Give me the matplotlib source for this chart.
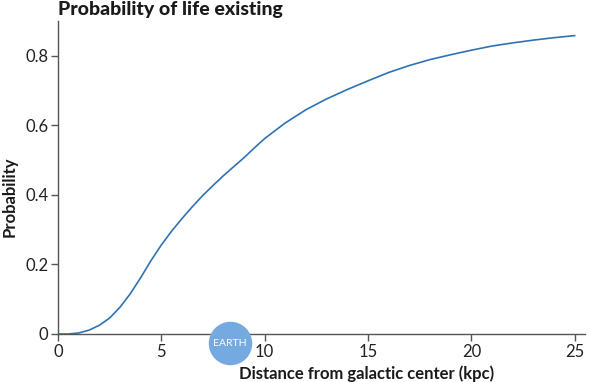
import matplotlib
matplotlib.use("Agg")
import matplotlib.pyplot as plt

# data
distance = [0, 0.5, 1, 1.5, 2, 2.5, 3, 3.5, 4, 4.5, 5, 5.5, 6, 6.5, 7, 7.5,
            8, 8.5, 9, 9.5, 10, 11, 12, 13, 14, 15, 16, 17, 18, 19, 20, 21,
            22, 23, 24, 25]
probability = [0, 0, 0.003, 0.011, 0.025, 0.046, 0.077, 0.116, 0.162, 0.211,
               0.256, 0.296, 0.332, 0.366, 0.398, 0.427, 0.455, 0.481, 0.507,
               0.535, 0.562, 0.607, 0.645, 0.676, 0.703, 0.728, 0.752, 0.772,
               0.789, 0.803, 0.816, 0.828, 0.837, 0.845, 0.852, 0.858]
earth_x = 8.3
earth_label = "EARTH"
x_ticks = [0, 5, 10, 15, 20, 25]
y_ticks = [0, 0.2, 0.4, 0.6, 0.8]
y_tick_labels = ["0", "0.2", "0.4", "0.6", "0.8"]

plt.rcParams["font.family"] = ["Lato", "DejaVu Sans"]

fig = plt.figure(figsize=(5.9, 3.82), dpi=100)
ax = fig.add_axes([58 / 590, 1 - 334 / 382, 527 / 590, 313 / 382])

ax.plot(distance, probability, color="#2f72b4", lw=1.2)

ax.set_xlim(0, 25.5)
ax.set_ylim(0, 0.9)
ax.set_xticks(x_ticks)
ax.set_yticks(y_ticks)
ax.set_yticklabels(y_tick_labels)

for side in ["top", "right"]:
    ax.spines[side].set_visible(False)
for side in ["left", "bottom"]:
    ax.spines[side].set_color("#555555")
    ax.spines[side].set_linewidth(1)
ax.tick_params(length=5, width=1, color="#555555", labelsize=12,
               labelcolor="#222222", pad=2)

# Earth marker
ax.scatter([earth_x], [-0.026], s=980, color="#74aae0", zorder=5, clip_on=False,
           linewidths=0)
ax.text(earth_x, -0.026, earth_label, color="white", fontsize=7.5,
        ha="center", va="center", zorder=6, clip_on=False)

ax.set_xlabel("Distance from galactic center (kpc)", fontsize=12,
              fontweight="bold", color="#1a1a1a")
ax.xaxis.set_label_coords(0.586, -0.1, transform=ax.transAxes)
ax.set_ylabel("Probability", fontsize=12, fontweight="bold", color="#1a1a1a")
ax.yaxis.set_label_coords(-0.076, 0.44, transform=ax.transAxes)

fig.text(58 / 590, 1 - 9 / 382, "Probability of life existing", fontsize=14,
         fontweight="black", color="#1a1a1a", ha="left", va="center")

fig.savefig("out.png", dpi=100)
